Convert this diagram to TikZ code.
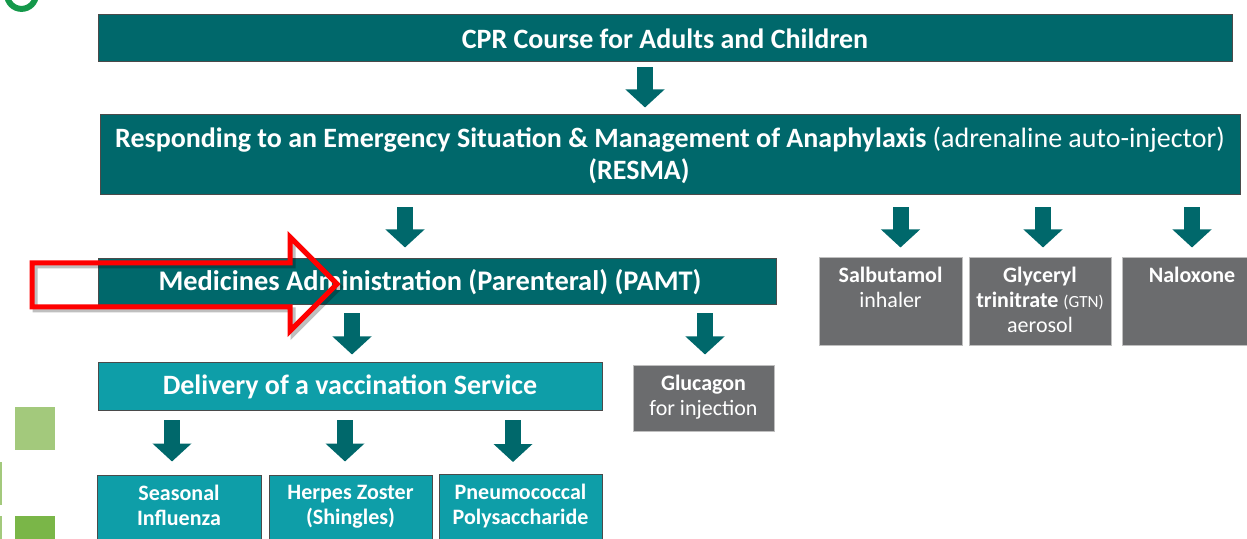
\documentclass[tikz,border=0pt]{standalone}
\usepackage{fontspec}
\setmainfont{Carlito}
\usetikzlibrary{arrows.meta}
\definecolor{tealdark}{HTML}{00686B}
\definecolor{teallight}{HTML}{0E9EA8}
\definecolor{boxgray}{HTML}{6B6C6E}
\definecolor{edgegray}{HTML}{4A4A4A}
\definecolor{ringgreen}{HTML}{14984A}
\definecolor{sqlight}{HTML}{A3C97C}
\definecolor{sqdark}{HTML}{7AB648}
\begin{document}
\begin{tikzpicture}[x=0.5pt,y=-0.5pt,
  box/.style={rectangle, inner sep=0pt, draw=edgegray, line width=0.5pt, text=white, align=center},
  darkbox/.style={box, fill=tealdark},
  lightbox/.style={box, fill=teallight},
  graybox/.style={box, fill=boxgray, draw=black!25},
  boxtext/.style={inner sep=0pt, anchor=north, text=white, align=center, font=\fontsize{11}{12.5}\selectfont},
  barrow/.style={draw=tealdark, line width=8pt, -{Triangle[width=19pt,length=9pt]}, tealdark}
]
\useasboundingbox (0,0) rectangle (1247,539);
\clip (0,0) rectangle (1247,539);

% decorations at left
\draw[ringgreen, line width=3pt] (21.5,-5.5) circle[radius=7.2pt];
\fill[sqlight] (15,407) rectangle (55,450);
\fill[sqlight] (0,462) rectangle (2,505);
\fill[sqlight] (0,516) rectangle (2,539);
\fill[sqdark] (15,516) rectangle (55,539);

% main boxes
\node[darkbox, minimum width=567pt, minimum height=23.5pt, font=\bfseries\fontsize{14}{16}\selectfont] (cpr) at (665,38.5) {CPR Course for Adults and Children};
\node[darkbox, minimum width=570pt, minimum height=40pt, font=\fontsize{14}{16}\selectfont] (resma) at (670,155)
  {\textbf{Responding to an Emergency Situation \& Management of Anaphylaxis} (adrenaline auto-injector)\\\textbf{(RESMA)}\hspace*{31pt}};
\node[darkbox, minimum width=339pt, minimum height=23pt, font=\bfseries\fontsize{14.2}{16}\selectfont] (pamt) at (437,282) {Medicines Administration (Parenteral) (PAMT)\hspace*{7pt}};

\node[graybox, minimum width=71.5pt, minimum height=44pt] (salb) at (890.5,302) {};
\node[graybox, minimum width=71pt, minimum height=44pt] (gtn) at (1040,302) {};
\node[graybox, minimum width=70pt, minimum height=44pt] (nalox) at (1192,302) {};
\node[boxtext] (salbt) at ([yshift=-4.5pt]salb.north) {\textbf{Salbutamol}\\inhaler};
\node[boxtext] (gtnt) at ([yshift=-4.5pt]gtn.north) {\textbf{Glyceryl}\\\textbf{trinitrate} {\fontsize{8.5}{9}\selectfont(GTN)}\\aerosol};
\node[boxtext] (naloxt) at ([yshift=-4.5pt]nalox.north) {\textbf{Naloxone}};

\node[lightbox, minimum width=252pt, minimum height=24pt, font=\bfseries\fontsize{14}{16}\selectfont] (deliv) at (350,387) {Delivery of a vaccination Service};
\node[graybox, minimum width=70.5pt, minimum height=33pt] (gluc) at (703.5,399) {};
\node[boxtext] (glucf) at ([yshift=-4.5pt]gluc.north) {\textbf{Glucagon}\\for injection};

\node[lightbox, minimum width=82pt, minimum height=42.5pt] (seas) at (179,517.5) {};
\node[lightbox, minimum width=81.5pt, minimum height=42.5pt] (herp) at (350.5,517.5) {};
\node[lightbox, minimum width=81.5pt, minimum height=42.5pt] (pneu) at (520.5,517) {};
\node[boxtext, font=\bfseries\fontsize{11}{12.5}\selectfont] (seast) at ([yshift=-5pt]seas.north) {Seasonal\\Influenza};
\node[boxtext, font=\bfseries\fontsize{11}{12.5}\selectfont] (herpt) at ([yshift=-5pt]herp.north) {Herpes Zoster\\(Shingles)};
\node[boxtext, font=\bfseries\fontsize{11}{12.5}\selectfont] (pneut) at ([yshift=-5pt]pneu.north) {Pneumococcal\\Polysaccharide};

% block arrows
\draw[barrow, shorten <=2.5pt, shorten >=3.5pt] ([xshift=-10pt]cpr.south) -- ([xshift=-10pt]cpr.south |- resma.north);
\draw[barrow, shorten <=6pt, shorten >=5.5pt] ([xshift=-16pt]pamt.north |- resma.south) -- ([xshift=-16pt]pamt.north);
\draw[barrow, shorten <=6pt, shorten >=5pt] ([xshift=5pt]salb.north |- resma.south) -- ([xshift=5pt]salb.north);
\draw[barrow, shorten <=6pt, shorten >=5pt] ([xshift=1.5pt]gtn.north |- resma.south) -- ([xshift=1.5pt]gtn.north);
\draw[barrow, shorten <=6pt, shorten >=5pt] (nalox.north |- resma.south) -- (nalox.north);
\draw[barrow, shorten <=4pt, shorten >=4pt] ([xshift=1pt]deliv.north |- pamt.south) -- ([xshift=1pt]deliv.north);
\draw[barrow, shorten <=4pt, shorten >=5.5pt] ([xshift=0.75pt]gluc.north |- pamt.south) -- ([xshift=0.75pt]gluc.north);
\draw[barrow, shorten <=4.5pt, shorten >=6.5pt] ([xshift=-3.5pt]seas.north |- deliv.south) -- ([xshift=-3.5pt]seas.north);
\draw[barrow, shorten <=4.5pt, shorten >=6.5pt] ([xshift=-2.75pt]herp.north |- deliv.south) -- ([xshift=-2.75pt]herp.north);
\draw[barrow, shorten <=4.5pt, shorten >=6pt] ([xshift=-3.75pt]pneu.north |- deliv.south) -- ([xshift=-3.75pt]pneu.north);

% red outline arrow
\draw[black, opacity=0.25, line width=2.5pt, line join=miter]
  (35,266) -- (293,266) -- (293,240) -- (340,287) -- (293,334) -- (293,310) -- (35,310) -- cycle;
\draw[red, line width=2.5pt, line join=miter]
  (32,263) -- (290,263) -- (290,237) -- (337,284) -- (290,331) -- (290,307) -- (32,307) -- cycle;
\end{tikzpicture}
\end{document}
